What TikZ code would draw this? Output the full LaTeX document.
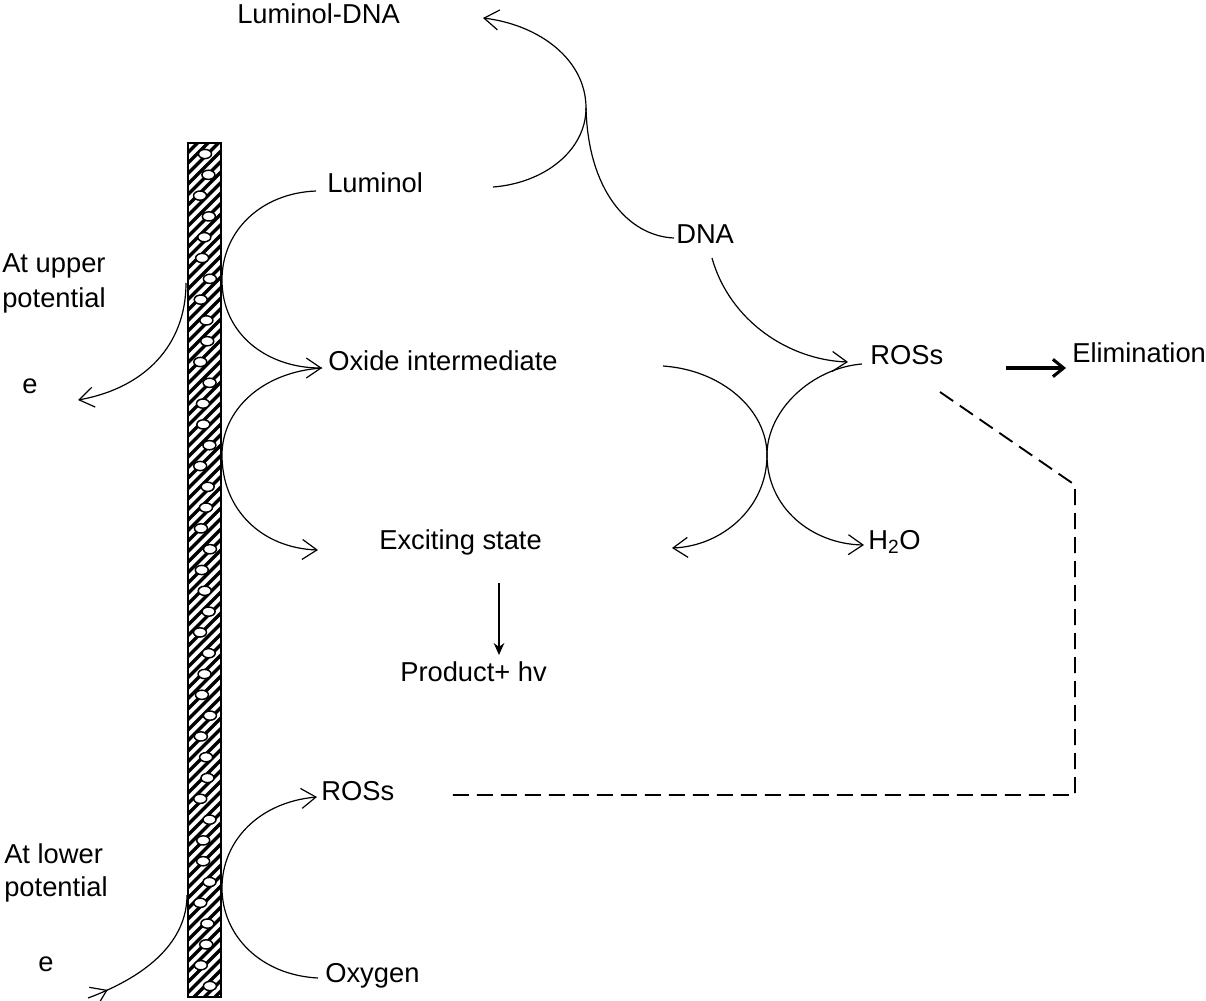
\documentclass[tikz,border=0pt]{standalone}
\usepackage{fontspec}
\setmainfont{Liberation Sans}
\usetikzlibrary{arrows.meta,decorations.markings}
\begin{document}
\begin{tikzpicture}[x=0.75pt,y=-0.75pt,
 lbl/.style={anchor=base west,inner sep=0pt,font=\fontsize{20.5}{26}\selectfont},
 flow/.style={line width=0.9pt,-{Straight Barb[length=11pt,width=15pt]}},
 plain/.style={line width=0.9pt},
 dashline/.style={line width=1.4pt,dash pattern=on 12pt off 6pt}]
\path[use as bounding box,fill=white] (0,0) rectangle (1206,1000);

% electrode
\begin{scope}
\clip (188,143) rectangle (221,997);
\foreach \i in {-1,...,92} \draw[line width=2.6pt] (180,150+\i*10.5) -- (228,102+\i*10.5);
\foreach \k in {0,...,40}{
 \pgfmathsetmacro\yy{154+\k*20.8}
 \pgfmathsetmacro\xx{205+5*sin(\k*137)}
 \draw[fill=white,line width=1.1pt] (\xx,\yy) ellipse [x radius=6.5, y radius=4.6];
}
\end{scope}
\draw[line width=2.2pt] (188,143) rectangle (221,997);

% labels
\node[lbl] (ld) at (237,23) {Luminol-DNA};
\node[lbl] (lum) at (327,192) {Luminol};
\node[lbl] (up1) at (2,272) {At upper};
\node[lbl] (up2) at (2,307) {potential};
\node[lbl] (e1) at (22,393) {e};
\node[lbl] (dna) at (676,243) {DNA};
\node[lbl] (oxi) at (328,370) {Oxide intermediate};
\node[lbl] (ros1) at (870,364) {ROSs};
\node[lbl] (elim) at (1072,362) {Elimination};
\node[lbl] (exc) at (379,549) {Exciting state};
\node[lbl] (h2o) at (868,549) {H\textsubscript{2}O};
\node[lbl] (prod) at (400,681) {Product+ hv};
\node[lbl] (ros2) at (321,800) {ROSs};
\node[lbl] (low1) at (4,863) {At lower};
\node[lbl] (low2) at (4,896) {potential};
\node[lbl] (e2) at (38,971) {e};
\node[lbl] (oxy) at (325,982) {Oxygen};

% junction coordinates
\coordinate (jtop) at (586,108);
\coordinate (jup) at (222,280);
\coordinate (jmid) at (222,455);
\coordinate (jlow) at (222,888);
\coordinate (jx) at (767,455);
\coordinate (oxtip) at (322,368);

% Luminol -> Luminol-DNA
\draw[flow] (493,187) .. controls (545,183) and (586,150) .. (jtop) .. controls (586,60) and (540,25) .. (483,18);
% DNA joins
\draw[plain] (jtop) .. controls (588,190) and (628,236) .. (674,238);
% Luminol -> Oxide (via electrode)
\draw[flow] (316,191) .. controls (262,193) and (222,230) .. (jup) .. controls (222,335) and (268,368) .. (oxtip);
% Oxide -> Exciting state (via electrode)
\draw[flow] (oxtip) .. controls (262,372) and (222,410) .. (jmid) .. controls (222,510) and (262,548) .. (318,550);
% electron release
\draw[flow] (186,283) .. controls (186,345) and (145,388) .. (78,400);
% electron uptake
\draw[plain,postaction={decorate},decoration={markings,mark=at position 0.14 with {\arrow{Straight Barb[length=11pt,width=15pt]}}}] (88,998) .. controls (150,975) and (187,940) .. (187,895);
% Oxygen -> ROSs (via electrode)
\draw[flow] (318,978) .. controls (260,975) and (222,935) .. (jlow) .. controls (222,840) and (260,802) .. (317,797);
% Oxide -> Exciting (right side)
\draw[flow] (663,366) .. controls (722,370) and (767,410) .. (jx) .. controls (767,508) and (722,546) .. (672,548);
% ROSs -> H2O
\draw[flow] (862,364) .. controls (812,368) and (767,410) .. (jx) .. controls (767,508) and (812,544) .. (864,545);
% DNA -> ROSs
\draw[flow] (712,258) .. controls (730,322) and (790,360) .. (848,362);
% Exciting -> Product
\draw[line width=0.9pt,-{Stealth[length=9pt,width=8pt]}] (499,583) -- (499,655);
% ROSs -> Elimination
\draw[line width=2.3pt,-{Straight Barb[length=8pt,width=13pt]}] (1006,368) -- (1066,368);
% dashed feedback
\draw[dashline] (940,392) -- (1075,485) -- (1075,795) -- (448,795);
\end{tikzpicture}
\end{document}
